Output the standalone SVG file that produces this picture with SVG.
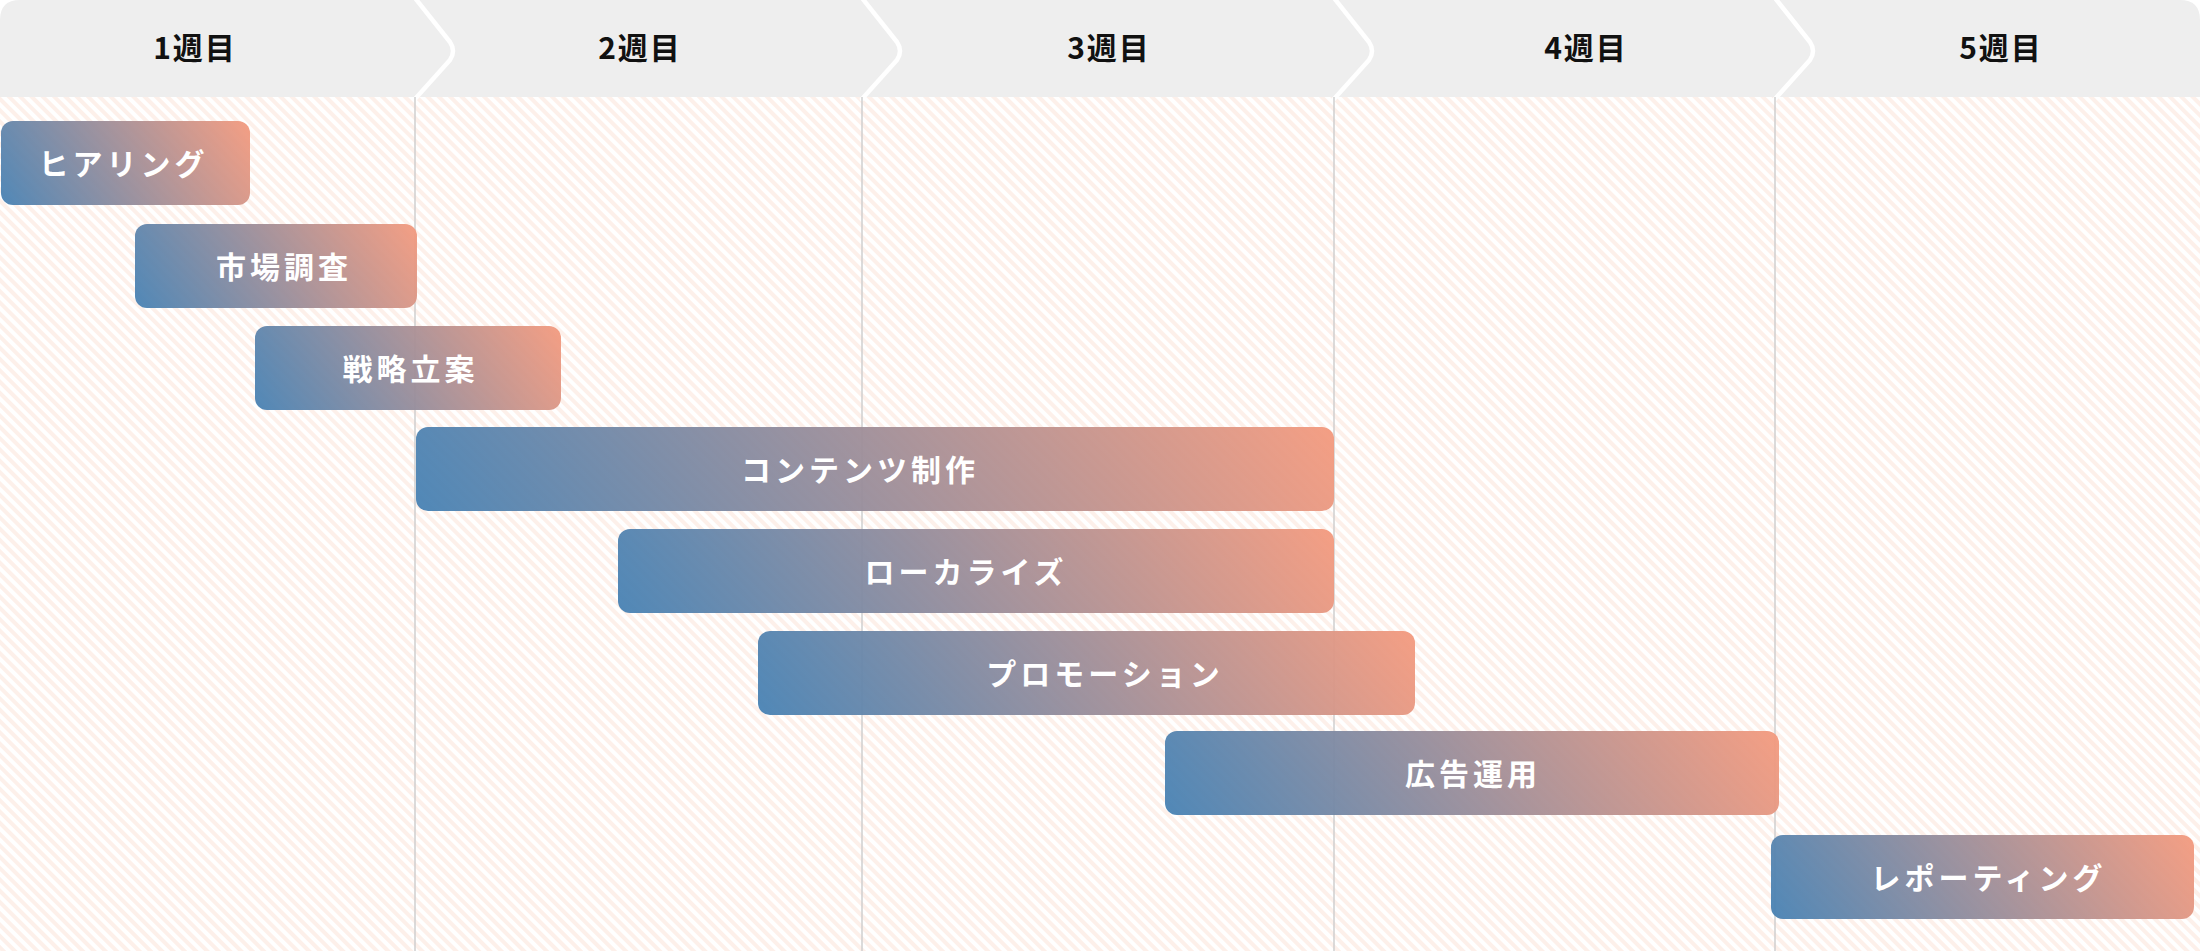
<svg xmlns="http://www.w3.org/2000/svg" width="2200" height="951" viewBox="0 0 2200 951">
<style>
.hdr{font-family:"Noto Sans CJK JP","Noto Sans",sans-serif;font-size:30px;font-weight:700;fill:#111;text-anchor:middle;letter-spacing:2px}
.lbl{font-family:"Noto Sans CJK JP","Noto Sans",sans-serif;font-size:30px;font-weight:700;fill:#fff;text-anchor:middle;letter-spacing:4px}
.sep{fill:none;stroke:#fff;stroke-width:4.5;stroke-linejoin:round;stroke-linecap:round}
.div{stroke:#cfcfcf;stroke-width:1.5}
.bar{opacity:0.95}
</style>
<defs>
<pattern id="bg" width="8" height="8" patternUnits="userSpaceOnUse" patternTransform="rotate(-45)">
<rect width="8" height="8" fill="#ffffff"/>
<rect width="4" height="8" fill="#fdf0ea"/>
</pattern>
<linearGradient id="g1" gradientUnits="userSpaceOnUse" x1="13.9" y1="227.4" x2="237.1" y2="98.6"><stop offset="0" stop-color="#4782b4"/><stop offset="1" stop-color="#f49a7e"/></linearGradient>
<linearGradient id="g2" gradientUnits="userSpaceOnUse" x1="152.1" y1="337.6" x2="399.9" y2="194.4"><stop offset="0" stop-color="#4782b4"/><stop offset="1" stop-color="#f49a7e"/></linearGradient>
<linearGradient id="g3" gradientUnits="userSpaceOnUse" x1="275.1" y1="444.8" x2="540.9" y2="291.2"><stop offset="0" stop-color="#4782b4"/><stop offset="1" stop-color="#f49a7e"/></linearGradient>
<linearGradient id="g4" gradientUnits="userSpaceOnUse" x1="512.6" y1="678.3" x2="1237.4" y2="259.7"><stop offset="0" stop-color="#4782b4"/><stop offset="1" stop-color="#f49a7e"/></linearGradient>
<linearGradient id="g5" gradientUnits="userSpaceOnUse" x1="689.3" y1="736.5" x2="1262.7" y2="405.5"><stop offset="0" stop-color="#4782b4"/><stop offset="1" stop-color="#f49a7e"/></linearGradient>
<linearGradient id="g6" gradientUnits="userSpaceOnUse" x1="821.9" y1="825.8" x2="1351.1" y2="520.2"><stop offset="0" stop-color="#4782b4"/><stop offset="1" stop-color="#f49a7e"/></linearGradient>
<linearGradient id="g7" gradientUnits="userSpaceOnUse" x1="1223.6" y1="916.4" x2="1720.4" y2="629.6"><stop offset="0" stop-color="#4782b4"/><stop offset="1" stop-color="#f49a7e"/></linearGradient>
<linearGradient id="g8" gradientUnits="userSpaceOnUse" x1="1805.7" y1="979.1" x2="2159.3" y2="774.9"><stop offset="0" stop-color="#4782b4"/><stop offset="1" stop-color="#f49a7e"/></linearGradient>
</defs>

<rect x="0" y="97" width="2200" height="854" fill="url(#bg)"/>

<g id="header">
<path d="M0,20 Q0,0 20,0 L2180,0 Q2200,0 2200,20 L2200,97 L0,97 Z" fill="#eeeeee"/>
<path class="sep" d="M415,-2 L450,42 Q456,51 450,60 L415,99"/>
<path class="sep" d="M862,-2 L897,42 Q903,51 897,60 L862,99"/>
<path class="sep" d="M1334,-2 L1369,42 Q1375,51 1369,60 L1334,99"/>
<path class="sep" d="M1775,-2 L1810,42 Q1816,51 1810,60 L1775,99"/>
<text class="hdr" x="195" y="58.5">1週目</text>
<text class="hdr" x="640" y="58.5">2週目</text>
<text class="hdr" x="1109" y="58.5">3週目</text>
<text class="hdr" x="1586" y="58.5">4週目</text>
<text class="hdr" x="2001" y="58.5">5週目</text>
</g>

<g id="gridlines">
<line class="div" x1="415" y1="97" x2="415" y2="951"/>
<line class="div" x1="862" y1="97" x2="862" y2="951"/>
<line class="div" x1="1334" y1="97" x2="1334" y2="951"/>
<line class="div" x1="1775" y1="97" x2="1775" y2="951"/>
</g>

<g id="connectors"></g>

<g id="task-hearing">
<rect class="bar" x="1" y="121" width="249" height="84" rx="12" fill="url(#g1)"/>
<text class="lbl" x="123.5" y="174.5">ヒアリング</text>
</g>
<g id="task-market-research">
<rect class="bar" x="135" y="224" width="282" height="84" rx="12" fill="url(#g2)"/>
<text class="lbl" x="284" y="277.5">市場調査</text>
</g>
<g id="task-strategy">
<rect class="bar" x="255" y="326" width="306" height="84" rx="12" fill="url(#g3)"/>
<text class="lbl" x="410.5" y="379.5">戦略立案</text>
</g>
<g id="task-content">
<rect class="bar" x="416" y="427" width="918" height="84" rx="12" fill="url(#g4)"/>
<text class="lbl" x="860" y="480.5">コンテンツ制作</text>
</g>
<g id="task-localize">
<rect class="bar" x="618" y="529" width="716" height="84" rx="12" fill="url(#g5)"/>
<text class="lbl" x="966" y="582.5">ローカライズ</text>
</g>
<g id="task-promotion">
<rect class="bar" x="758" y="631" width="657" height="84" rx="12" fill="url(#g6)"/>
<text class="lbl" x="1105" y="684.5">プロモーション</text>
</g>
<g id="task-ads">
<rect class="bar" x="1165" y="731" width="614" height="84" rx="12" fill="url(#g7)"/>
<text class="lbl" x="1473" y="784.5">広告運用</text>
</g>
<g id="task-reporting">
<rect class="bar" x="1771" y="835" width="423" height="84" rx="12" fill="url(#g8)"/>
<text class="lbl" x="1988.5" y="888.5">レポーティング</text>
</g>
</svg>
